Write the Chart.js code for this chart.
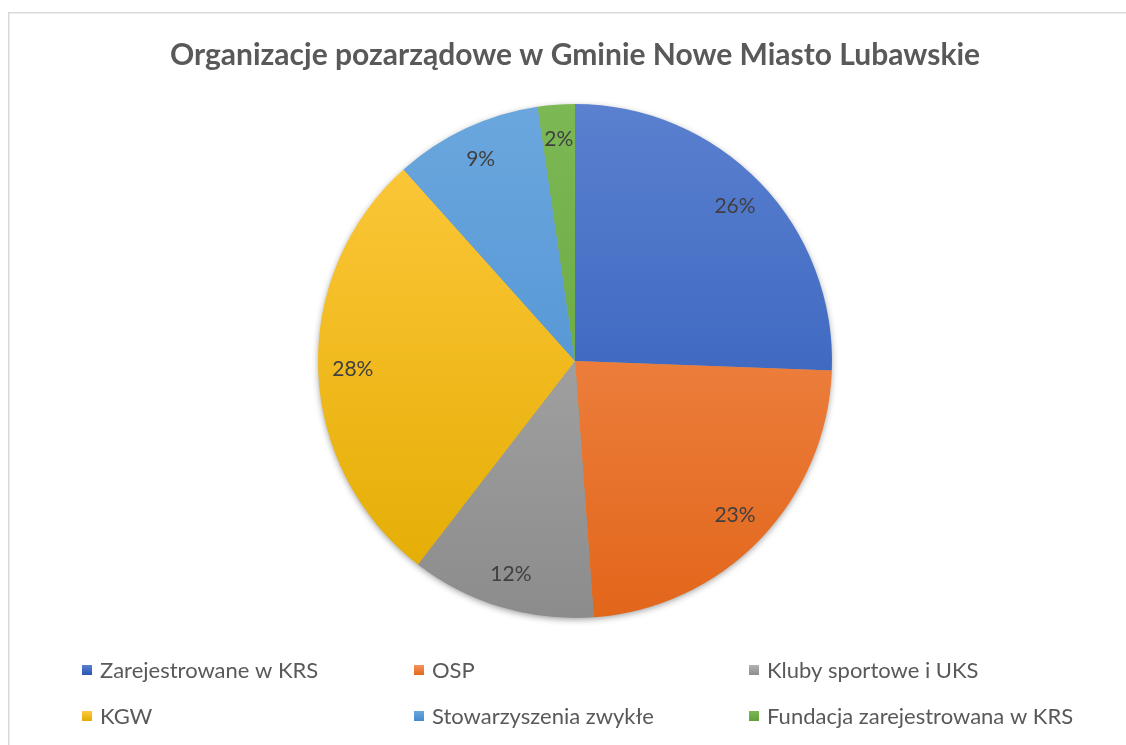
<!DOCTYPE html>
<html>
<head>
<meta charset="utf-8">
<script src="https://cdn.jsdelivr.net/npm/chart.js@4.4.1/dist/chart.umd.min.js"></script>
<style>
  html, body { margin: 0; padding: 0; background: #ffffff; }
  #wrap { width: 1126px; height: 745px; position: relative; }
</style>
</head>
<body>
<div id="wrap"><canvas id="pie"></canvas></div>
<script>
// data (counts, total 43)
const categories = [
    'Zarejestrowane w KRS',
    'OSP',
    'Kluby sportowe i UKS',
    'KGW',
    'Stowarzyszenia zwykłe',
    'Fundacja zarejestrowana w KRS'
];
const counts = [11, 10, 5, 12, 4, 1];

// Office-like gradient fills, lighter on top
const topColors = ['#5a80cf', '#f5945c', '#b3b3b3', '#ffca3f', '#6ba7de', '#7cb955'];
const bottomColors = ['#2856b6', '#e2661a', '#8c8c8c', '#e2ab00', '#448acd', '#5f9f38'];
const baseColors = ['#4472c4', '#ed7d31', '#a5a5a5', '#ffc000', '#5b9bd5', '#70ad47'];

const textColor = '#595959';
const fontFamily = 'Lato, "Open Sans", sans-serif';

function sliceFill(context) {
    const chart = context.chart;
    const area = chart.chartArea;
    if (!area) return baseColors[context.dataIndex];
    const g = chart.ctx.createLinearGradient(0, area.top, 0, area.bottom);
    g.addColorStop(0, topColors[context.dataIndex]);
    g.addColorStop(1, bottomColors[context.dataIndex]);
    return g;
}

const framePlugin = {
    id: 'frame',
    beforeDraw(chart) {
        const ctx = chart.ctx;
        ctx.save();
        ctx.fillStyle = '#ffffff';
        ctx.fillRect(0, 0, chart.width, chart.height);
        ctx.strokeStyle = '#d9d9d9';
        ctx.lineWidth = 1.5;
        ctx.strokeRect(8.75, 12.75, chart.width + 20, chart.height + 20);
        ctx.restore();
    },
    beforeDatasetsDraw(chart) {
        // soft shadow under the whole pie
        const arc = chart.getDatasetMeta(0).data[0];
        if (!arc) return;
        const ctx = chart.ctx;
        ctx.save();
        ctx.shadowColor = 'rgba(0,0,0,0.45)';
        ctx.shadowBlur = 7;
        ctx.shadowOffsetY = 2;
        ctx.fillStyle = '#9a9a9a';
        ctx.beginPath();
        ctx.arc(arc.x, arc.y, arc.outerRadius - 1, 0, Math.PI * 2);
        ctx.fill();
        ctx.restore();
    }
};

const percentLabels = {
    id: 'percentLabels',
    afterDatasetsDraw(chart) {
        const ctx = chart.ctx;
        const values = chart.data.datasets[0].data;
        const total = values.reduce((a, b) => a + b, 0);
        ctx.save();
        ctx.font = '21px ' + fontFamily;
        ctx.fillStyle = '#404040';
        ctx.textAlign = 'center';
        ctx.textBaseline = 'middle';
        chart.getDatasetMeta(0).data.forEach((arc, i) => {
            const mid = (arc.startAngle + arc.endAngle) / 2;
            const r = arc.outerRadius * 0.865;
            const pct = Math.round(values[i] / total * 100) + '%';
            ctx.fillText(pct, arc.x + Math.cos(mid) * r, arc.y + Math.sin(mid) * r);
        });
        ctx.restore();
    }
};

const columnLegend = {
    id: 'columnLegend',
    afterDraw(chart) {
        const ctx = chart.ctx;
        const colX = [82, 414, 749];
        const rowY = [670, 716];
        ctx.save();
        ctx.font = '22px ' + fontFamily;
        ctx.textAlign = 'left';
        ctx.textBaseline = 'middle';
        chart.data.labels.forEach((label, i) => {
            const x = colX[i % 3];
            const y = rowY[Math.floor(i / 3)];
            const g = ctx.createLinearGradient(0, y - 5, 0, y + 5);
            g.addColorStop(0, topColors[i]);
            g.addColorStop(1, bottomColors[i]);
            ctx.fillStyle = g;
            ctx.fillRect(x, y - 5, 10, 10);
            ctx.fillStyle = textColor;
            ctx.fillText(label, x + 18, y + 1);
        });
        ctx.restore();
    }
};

new Chart(document.getElementById('pie').getContext('2d'), {
    type: 'pie',
    data: {
        labels: categories,
        datasets: [{
            data: counts,
            backgroundColor: sliceFill,
            borderWidth: 0,
            hoverOffset: 0,
            offset: 0
        }]
    },
    options: {
        responsive: true,
        maintainAspectRatio: false,
        animation: false,
        layout: {
            padding: { left: 24, right: 0, top: 0, bottom: 127 }
        },
        plugins: {
            legend: { display: false },
            tooltip: { enabled: false },
            title: {
                display: true,
                text: 'Organizacje pozarządowe w Gminie Nowe Miasto Lubawskie',
                color: textColor,
                font: { family: fontFamily, size: 30, weight: 'bold', lineHeight: 1.2 },
                padding: { top: 37, bottom: 31 }
            }
        }
    },
    plugins: [framePlugin, percentLabels, columnLegend]
});
</script>
</body>
</html>
